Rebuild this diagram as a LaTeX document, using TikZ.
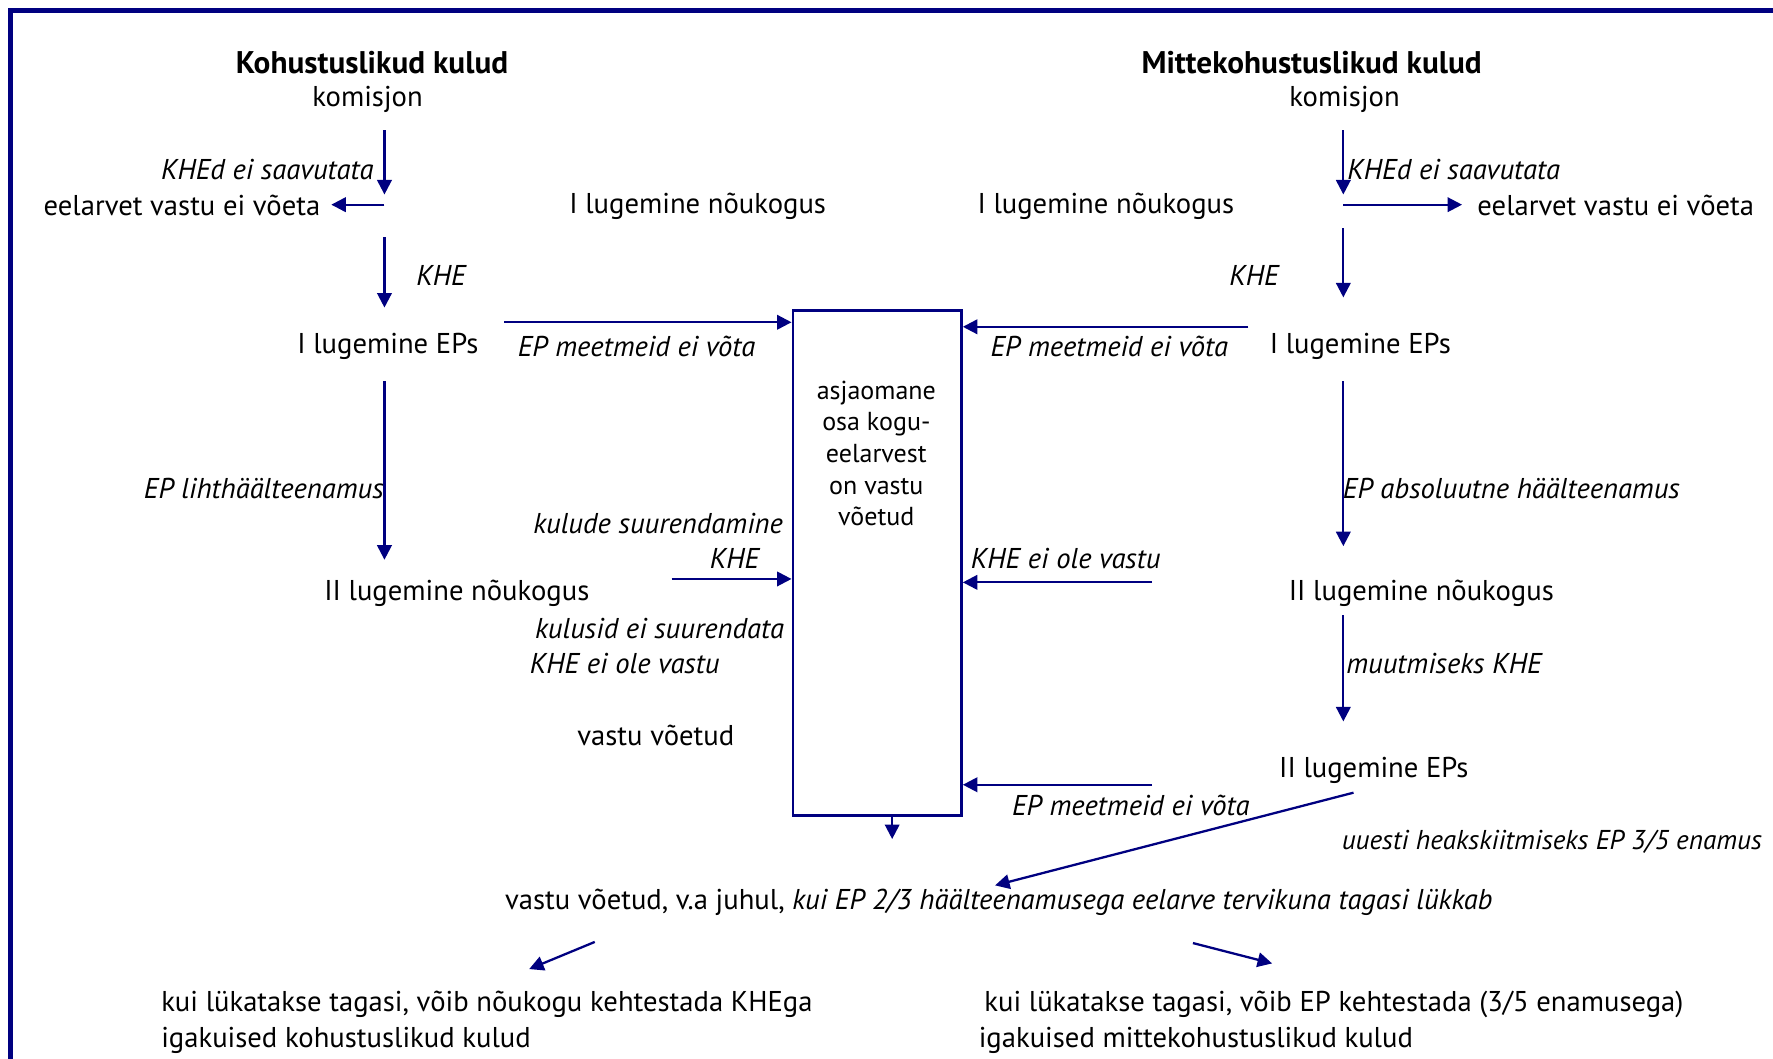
\documentclass[tikz,border=0pt]{standalone}
\usepackage{fontspec}
\setmainfont{PT Sans}
\usetikzlibrary{arrows.meta,positioning}
\definecolor{navy}{RGB}{0,0,128}

\begin{document}
\begin{tikzpicture}[x=0.11307mm, y=-0.11307mm,
    every node/.style={inner sep=0pt, font=\fontsize{8.15}{10.3}\selectfont},
    note/.style={font=\fontsize{8.15}{10.3}\selectfont\itshape},
    head/.style={font=\fontsize{8.9}{10.3}\selectfont\bfseries},
    flow/.style={draw=navy, line width=0.65pt, -{Triangle[length=1.45mm, width=1.45mm]}}]
    \useasboundingbox (0,0) rectangle (1568,936);

    % Outer frame (only top and left edges are visible)
    \draw[navy, line width=1.4pt] (9,960) -- (9,9) -- (1590,9);

    % Central box
    \node[draw=navy, line width=0.8pt, minimum width=16.85mm, minimum height=50.54mm, anchor=north west] (box) at (700,273) {};
    \node[align=center, font=\fontsize{7.4}{9}\selectfont] (boxtxt) at (775,401) {asjaomane\\osa kogu-\\eelarvest\\on vastu\\võetud};

    % Left column: kohustuslikud kulud
    \node[head] (titleL) at (329,55) {Kohustuslikud kulud};
    \node (komL) at (325,88) {komisjon};
    \node[note, anchor=east] (khedL) at (331,150) {KHEd ei saavutata};
    \node[anchor=west] (rejL) at (38,182) {eelarvet vastu ei võeta};
    \node[note] (kheL) at (390,244) {KHE};
    \node (nk1L) at (617,182) {I lugemine nõukogus};
    \node (ep1L) at (343,306) {I lugemine EPs};
    \node[note] (meetL) at (563,306) {EP meetmeid ei võta};
    \node[note, anchor=east] (lihtL) at (340,432) {EP lihthäälteenamus};
    \node (nk2L) at (404,525) {II lugemine nõukogus};
    \node[note, anchor=east] (suurL) at (693,463) {kulude suurendamine};
    \node[note, anchor=east] (khe2L) at (672,494) {KHE};
    \node[note, anchor=east] (eisuurL) at (694,556) {kulusid ei suurendata};
    \node[note, anchor=west] (eioleL) at (468,587) {KHE ei ole vastu};
    \node (votL) at (580,650) {vastu võetud};

    \coordinate (a1) at (340,115);  \coordinate (a2) at (340,172);
    \coordinate (a3) at (340,181);  \coordinate (a4) at (293,181);
    \coordinate (a5) at (340,210);  \coordinate (a6) at (340,272);
    \coordinate (a7) at (446,285);
    \coordinate (a8) at (340,337);  \coordinate (a9) at (340,495);
    \coordinate (a10) at (594,512);
    \draw[flow] (a1) -- (a2);
    \draw[flow] (a3) -- (a4);
    \draw[flow] (a5) -- (a6);
    \draw[flow] (a7) -- (a7 -| box.west);
    \draw[flow] (a8) -- (a9);
    \draw[flow] (a10) -- (a10 -| box.west);

    % Right column: mittekohustuslikud kulud
    \node[head] (titleR) at (1160,55) {Mittekohustuslikud kulud};
    \node (komR) at (1189,88) {komisjon};
    \node[note, anchor=west] (khedR) at (1191,150) {KHEd ei saavutata};
    \node[anchor=west] (rejR) at (1306,182) {eelarvet vastu ei võeta};
    \node (nk1R) at (978,182) {I lugemine nõukogus};
    \node[note] (kheR) at (1109,244) {KHE};
    \node (ep1R) at (1203,306) {I lugemine EPs};
    \node[note] (meetR) at (981,306) {EP meetmeid ei võta};
    \node[note, anchor=west] (absR) at (1187,432) {EP absoluutne häälteenamus};
    \node (nk2R) at (1257,525) {II lugemine nõukogus};
    \node[note, anchor=west] (eioleR) at (858,494) {KHE ei ole vastu};
    \node[note, anchor=west] (muutR) at (1190,587) {muutmiseks KHE};
    \node (ep2R) at (1215,681) {II lugemine EPs};
    \node[note] (meet2R) at (1000,712) {EP meetmeid ei võta};
    \node[note, anchor=west, font=\fontsize{7.75}{10.3}\selectfont\itshape] (uuestiR) at (1186,744) {uuesti heakskiitmiseks EP 3/5 enamus};

    \coordinate (b1) at (1188,115);  \coordinate (b2) at (1188,172);
    \coordinate (b3) at (1188,181);  \coordinate (b4) at (1293,181);
    \coordinate (b5) at (1188,202);  \coordinate (b6) at (1188,263);
    \coordinate (b7) at (1104,289);
    \coordinate (b8) at (1188,337);  \coordinate (b9) at (1188,483);
    \coordinate (b10) at (1019,515);
    \coordinate (b11) at (1188,544); \coordinate (b12) at (1188,638);
    \coordinate (b13) at (1019,694);
    \coordinate (b14) at (1197,701); \coordinate (b15) at (880,783);
    \draw[flow] (b1) -- (b2);
    \draw[flow] (b3) -- (b4);
    \draw[flow] (b5) -- (b6);
    \draw[flow] (b7) -- (b7 -| box.east);
    \draw[flow] (b8) -- (b9);
    \draw[flow] (b10) -- (b10 -| box.east);
    \draw[flow] (b11) -- (b12);
    \draw[flow] (b13) -- (b13 -| box.east);
    \draw[flow] (b14) -- (b15);

    % Outcome
    \coordinate (c1) at (789,742);
    \draw[flow] (box.south -| c1) -- (c1);
    \node[anchor=west] (outcome) at (446,798) {vastu võetud, v.a juhul, \textit{kui EP 2/3 häälteenamusega eelarve tervikuna tagasi lükkab}};
    \coordinate (c2) at (526,833);  \coordinate (c3) at (468,857);
    \coordinate (c4) at (1055,834); \coordinate (c5) at (1125,852);
    \draw[flow] (c2) -- (c3);
    \draw[flow] (c4) -- (c5);
    \node[anchor=north west, align=left] (finL) at (142,876) {kui lükatakse tagasi, võib nõukogu kehtestada KHEga\\igakuised kohustuslikud kulud};
    \node[anchor=north west, align=left] (finR) at (865,876) {\hspace{1.6pt}kui lükatakse tagasi, võib EP kehtestada (3/5 enamusega)\\igakuised mittekohustuslikud kulud};
\end{tikzpicture}
\end{document}
